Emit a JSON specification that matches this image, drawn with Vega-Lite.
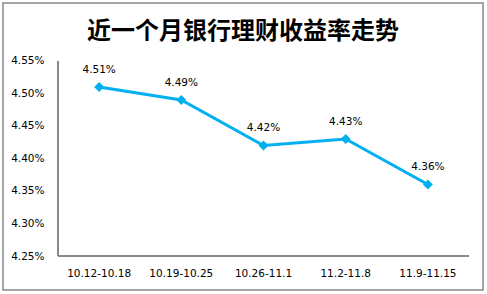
{
  "$schema": "https://vega.github.io/schema/vega-lite/v6.json",
  "width": 480,
  "height": 287,
  "autosize": {"type": "none"},
  "padding": {"left": 3, "top": 3, "right": 4, "bottom": 4},
  "background": "#ffffff",
  "title": {
    "text": "近一个月银行理财收益率走势",
    "font": "Noto Sans CJK SC",
    "fontSize": 24,
    "fontWeight": "bold",
    "color": "#000000",
    "anchor": "middle",
    "orient": "top",
    "baseline": "top",
    "offset": -12,
    "dy": 29
  },
  "data": {
    "values": [
      {"week": "10.12-10.18", "rate": 0.0451},
      {"week": "10.19-10.25", "rate": 0.0449},
      {"week": "10.26-11.1", "rate": 0.0442},
      {"week": "11.2-11.8", "rate": 0.0443},
      {"week": "11.9-11.15", "rate": 0.0436}
    ]
  },
  "encoding": {
    "x": {
      "field": "week",
      "type": "nominal",
      "sort": null,
      "scale": {
        "type": "band",
        "domain": ["10.12-10.18", "10.19-10.25", "10.26-11.1", "11.2-11.8", "11.9-11.15"],
        "paddingInner": 0,
        "paddingOuter": 0.42,
        "align": 0.797
      },
      "axis": {
        "title": null,
        "domain": false,
        "ticks": false,
        "labelAngle": 0,
        "labelFont": "DejaVu Sans",
        "labelFontSize": 10.5,
        "labelColor": "#000000",
        "labelPadding": 12,
        "offset": -34
      }
    },
    "y": {
      "field": "rate",
      "type": "quantitative",
      "scale": {"domain": [0.041977, 0.046392], "nice": false, "zero": false},
      "axis": {
        "title": null,
        "domain": false,
        "ticks": false,
        "grid": false,
        "values": [0.0425, 0.043, 0.0435, 0.044, 0.0445, 0.045, 0.0455],
        "format": ".2%",
        "labelFont": "DejaVu Sans",
        "labelFontSize": 10.5,
        "labelColor": "#000000",
        "labelPadding": 14,
        "offset": -55
      }
    }
  },
  "layer": [
    {
      "mark": {"type": "rule", "color": "#868686", "strokeWidth": 1},
      "encoding": {
        "x": {"datum": "10.12-10.18", "type": "nominal", "bandPosition": 0},
        "y": {"datum": 0.0425},
        "y2": {"datum": 0.0455}
      }
    },
    {
      "mark": {"type": "rule", "color": "#868686", "strokeWidth": 1},
      "encoding": {
        "x": {"datum": "10.12-10.18", "type": "nominal", "bandPosition": 0},
        "x2": {"datum": "11.9-11.15", "bandPosition": 1},
        "y": {"datum": 0.0425}
      }
    },
    {
      "mark": {"type": "line", "color": "#00B0F0", "strokeWidth": 3},
      "encoding": {}
    },
    {
      "mark": {"type": "point", "shape": "diamond", "filled": true, "color": "#00B0F0", "size": 100, "opacity": 1},
      "encoding": {}
    },
    {
      "mark": {"type": "text", "dy": -17, "font": "DejaVu Sans", "fontSize": 10.5, "color": "#000000"},
      "encoding": {"text": {"field": "rate", "format": ".2%"}}
    }
  ],
  "config": {
    "view": {"stroke": "#888888", "strokeWidth": 1.5}
  }
}
